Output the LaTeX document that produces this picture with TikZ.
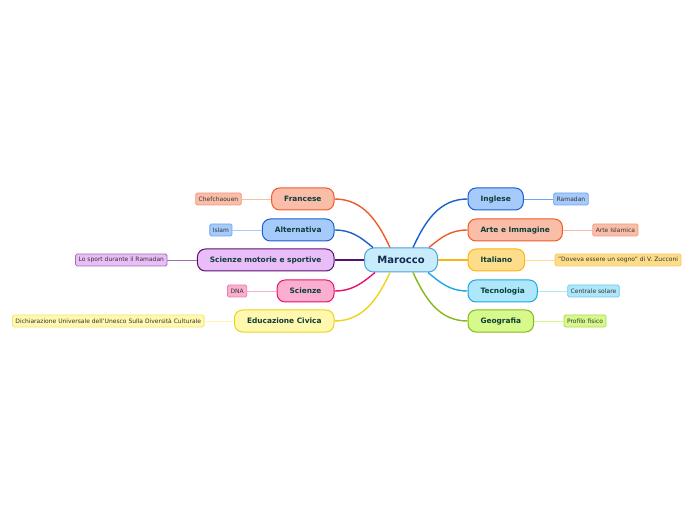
\documentclass[tikz,border=0pt]{standalone}
\usepackage{fontspec}
\setmainfont{DejaVu Sans}
\usetikzlibrary{positioning}

\definecolor{mainfill}{HTML}{C8ECFB}
\definecolor{mainline}{HTML}{4BA3D8}
\definecolor{maintext}{HTML}{152A4E}
\definecolor{topictext}{HTML}{0F3D3A}
\definecolor{leaftext}{HTML}{333333}
\definecolor{redfill}{HTML}{F9BDA8}
\definecolor{redline}{HTML}{F05A28}
\definecolor{redleaf}{HTML}{F39A7E}
\definecolor{bluefill}{HTML}{A6CAFA}
\definecolor{blueline}{HTML}{1A5FD0}
\definecolor{blueleaf}{HTML}{6FA3EE}
\definecolor{purpfill}{HTML}{E9BDF7}
\definecolor{purpline}{HTML}{5A1070}
\definecolor{purpleaf}{HTML}{A070B0}
\definecolor{pinkfill}{HTML}{FBAFD0}
\definecolor{pinkline}{HTML}{E8106A}
\definecolor{pinkleaf}{HTML}{F07AAA}
\definecolor{yellfill}{HTML}{FFF8AE}
\definecolor{yellline}{HTML}{EBD31E}
\definecolor{yellleaf}{HTML}{F2E678}
\definecolor{orfill}{HTML}{FEDD8A}
\definecolor{orline}{HTML}{FDB515}
\definecolor{orleaf}{HTML}{F8C860}
\definecolor{cyanfill}{HTML}{AEE6FA}
\definecolor{cyanline}{HTML}{1AA8E6}
\definecolor{cyanleaf}{HTML}{6CCAEE}
\definecolor{greenfill}{HTML}{D7F98B}
\definecolor{greenline}{HTML}{85B81A}
\definecolor{greenleaf}{HTML}{AED85A}

\begin{document}
\begin{tikzpicture}[x=1pt,y=1pt,node distance=29.5pt,
    main/.style={draw=mainline,fill=mainfill,rounded corners=9pt,line width=1pt,
      minimum width=73pt,minimum height=24pt,text=maintext,
      font=\fontsize{10}{12}\selectfont\bfseries},
    topic/.style={draw,rounded corners=8pt,line width=1pt,minimum height=22pt,
      inner xsep=12.5pt,inner ysep=0pt,text=topictext,
      font=\fontsize{7.4}{9}\selectfont\bfseries},
    leaf/.style={draw,rounded corners=1.5pt,line width=0.8pt,minimum height=12pt,
      inner xsep=3pt,inner ysep=0pt,text=leaftext,
      font=\fontsize{6}{7}\selectfont},
    link/.style={line width=1.4pt},
    twig/.style={line width=0.9pt}]
  \useasboundingbox (0,0) rectangle (696,520);

  \node[main] (c) at (401,260) {Marocco};

  % left side
  \node[topic,fill=redfill,draw=redline,left=of c,yshift=61pt] (fr) {Francese};
  \node[topic,fill=bluefill,draw=blueline,left=of c,yshift=30pt] (alt) {Alternativa};
  \node[topic,fill=purpfill,draw=purpline,left=of c] (mot) {Scienze motorie e sportive};
  \node[topic,fill=pinkfill,draw=pinkline,left=of c,yshift=-31pt] (sci) {Scienze};
  \node[topic,fill=yellfill,draw=yellline,left=of c,yshift=-61pt] (edu) {Educazione Civica};

  \node[leaf,fill=redfill,draw=redleaf,left=of fr] (chef) {Chefchaouen};
  \node[leaf,fill=bluefill,draw=blueleaf,left=of alt] (islam) {Islam};
  \node[leaf,fill=purpfill,draw=purpleaf,left=of mot] (sport) {Lo sport durante il Ramadan};
  \node[leaf,fill=pinkfill,draw=pinkleaf,left=of sci] (dna) {DNA};
  \node[leaf,fill=yellfill,draw=yellleaf,left=of edu] (dich) {Dichiarazione Universale dell'Unesco Sulla Diversità Culturale};

  % right side
  \node[topic,fill=bluefill,draw=blueline,right=of c,yshift=61pt] (ing) {Inglese};
  \node[topic,fill=redfill,draw=redline,right=of c,yshift=30pt] (arte) {Arte e Immagine};
  \node[topic,fill=orfill,draw=orline,right=of c] (ita) {Italiano};
  \node[topic,fill=cyanfill,draw=cyanline,right=of c,yshift=-31pt] (tec) {Tecnologia};
  \node[topic,fill=greenfill,draw=greenline,right=of c,yshift=-61pt] (geo) {Geografia};

  \node[leaf,fill=bluefill,draw=blueleaf,right=of ing] (rama) {Ramadan};
  \node[leaf,fill=redfill,draw=redleaf,right=of arte] (isl) {Arte Islamica};
  \node[leaf,fill=orfill,draw=orleaf,right=of ita] (sogno) {"Doveva essere un sogno" di V. Zucconi};
  \node[leaf,fill=cyanfill,draw=cyanleaf,right=of tec] (sol) {Centrale solare};
  \node[leaf,fill=greenfill,draw=greenleaf,right=of geo] (fis) {Profilo fisico};

  % connectors from the centre
  \draw[link,redline] ([xshift=-11pt]c.north) to[out=115,in=0] (fr.east);
  \draw[link,blueline] ([xshift=-28pt]c.north) to[out=140,in=0] (alt.east);
  \draw[link,purpline] (c.west) -- (mot.east);
  \draw[link,pinkline] ([xshift=-26pt]c.south) to[out=-140,in=0] (sci.east);
  \draw[link,yellline] ([xshift=-11pt]c.south) to[out=-115,in=0] (edu.east);
  \draw[link,blueline] ([xshift=12pt]c.north) to[out=65,in=180] (ing.west);
  \draw[link,redline] ([xshift=28pt]c.north) to[out=40,in=180] (arte.west);
  \draw[link,orline] (c.east) -- (ita.west);
  \draw[link,cyanline] ([xshift=27pt]c.south) to[out=-40,in=180] (tec.west);
  \draw[link,greenline] ([xshift=12pt]c.south) to[out=-65,in=180] (geo.west);

  % leaves
  \draw[twig,redfill] (fr.west) -- (chef.east);
  \draw[twig,bluefill] (alt.west) -- (islam.east);
  \draw[twig,purpleaf] (mot.west) -- (sport.east);
  \draw[twig,pinkfill] (sci.west) -- (dna.east);
  \draw[twig,yellfill] (edu.west) -- (dich.east);
  \draw[twig,blueleaf] (ing.east) -- (rama.west);
  \draw[twig,redfill] (arte.east) -- (isl.west);
  \draw[twig,orfill] (ita.east) -- (sogno.west);
  \draw[twig,cyanfill] (tec.east) -- (sol.west);
  \draw[twig,greenfill] (geo.east) -- (fis.west);
\end{tikzpicture}
\end{document}
